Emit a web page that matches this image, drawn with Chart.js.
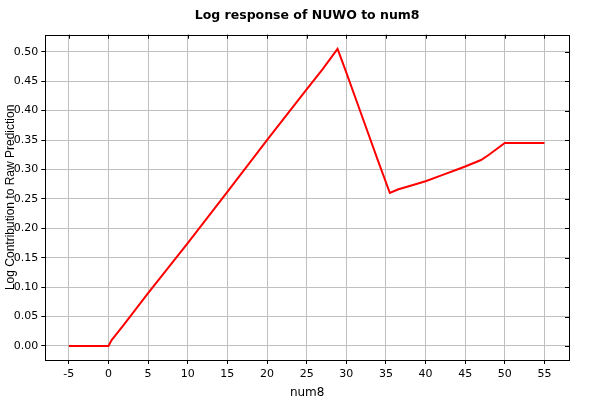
<!DOCTYPE html>
<html>
<head>
<meta charset="utf-8">
<title>Log response of NUWO to num8</title>
<script src="https://cdn.jsdelivr.net/npm/chart.js@4"></script>
<style>
  html, body { margin: 0; padding: 0; background: #fff; }
  canvas { display: block; }
</style>
</head>
<body>
<canvas id="responseChart" width="600" height="400"></canvas>
<script>
// values
const num8 = [-5, -2, 0, 0.4, 1, 2, 5, 10, 15, 20, 25, 27, 28.9, 30, 32, 34, 35.5, 36.5, 38, 40, 42, 44, 45, 47, 48, 50, 52, 55];
const logContribution = [0, 0, 0, 0.01, 0.02, 0.037, 0.09, 0.175, 0.262, 0.35, 0.436, 0.47, 0.505, 0.465, 0.39, 0.315, 0.26, 0.266, 0.272, 0.28, 0.29, 0.3, 0.305, 0.316, 0.325, 0.345, 0.345, 0.345];
const xTicks = [-5, 0, 5, 10, 15, 20, 25, 30, 35, 40, 45, 50, 55];
const yTicks = [0, 0.05, 0.1, 0.15, 0.2, 0.25, 0.3, 0.35, 0.4, 0.45, 0.5];
const chartTitle = "Log response of NUWO to num8";

const points = num8.map((x, i) => ({ x, y: logContribution[i] }));

Chart.defaults.font.family = "'DejaVu Sans', sans-serif";
Chart.defaults.color = "#000";

// title centred over the plot, black frame, small inside ticks on top and right
const frame = {
  id: "frame",
  afterDraw(chart) {
    const { ctx, chartArea: a, scales } = chart;
    ctx.save();
    ctx.fillStyle = "#000";
    ctx.font = "bold 12.5px 'DejaVu Sans', sans-serif";
    ctx.textAlign = "center";
    ctx.textBaseline = "middle";
    ctx.fillText(chartTitle, (a.left + a.right) / 2, 16);

    ctx.strokeStyle = "#000";
    ctx.lineWidth = 1;
    ctx.beginPath();
    xTicks.forEach((v) => {
      const px = Math.round(scales.x.getPixelForValue(v)) + 0.5;
      ctx.moveTo(px, a.top);
      ctx.lineTo(px, a.top + 4);
    });
    yTicks.forEach((v) => {
      const py = Math.round(scales.y.getPixelForValue(v)) + 0.5;
      ctx.moveTo(a.right, py);
      ctx.lineTo(a.right - 4, py);
    });
    ctx.stroke();
    ctx.strokeRect(Math.round(a.left) + 0.5, Math.round(a.top) + 0.5,
      Math.round(a.right - a.left), Math.round(a.bottom - a.top));
    ctx.restore();
  }
};

new Chart(document.getElementById("responseChart").getContext("2d"), {
  type: "scatter",
  data: {
    datasets: [
      {
        label: "num8",
        data: points,
        showLine: true,
        borderColor: "#ff0000",
        backgroundColor: "#ff0000",
        borderWidth: 2,
        pointRadius: 0,
        tension: 0
      }
    ]
  },
  options: {
    responsive: false,
    animation: false,
    layout: { padding: { left: 0, right: 31, top: 34.7, bottom: 0 } },
    plugins: {
      legend: { display: false },
      tooltip: { enabled: false },
      title: { display: false }
    },
    scales: {
      x: {
        type: "linear",
        min: -7.97,
        max: 58.1,
        afterBuildTicks: (scale) => {
          scale.ticks = xTicks.map((v) => ({ value: v }));
        },
        afterFit: (scale) => {
          scale.height = 40;
        },
        ticks: { font: { size: 11 }, padding: 4, maxRotation: 0 },
        grid: { color: "#c0c0c0", tickColor: "#000", tickLength: 4 },
        border: { display: false },
        title: { display: true, text: "num8", font: { size: 12 }, padding: { top: 4, bottom: 0 } }
      },
      y: {
        type: "linear",
        min: -0.0238,
        max: 0.529,
        afterBuildTicks: (scale) => {
          scale.ticks = yTicks.map((v) => ({ value: v }));
        },
        afterFit: (scale) => {
          scale.width = 45.3;
        },
        ticks: {
          font: { size: 11 },
          padding: 3,
          callback: (v) => v.toFixed(2)
        },
        grid: { color: "#c0c0c0", tickColor: "#000", tickLength: 4 },
        border: { display: false },
        title: {
          display: true,
          text: "Log Contribution to Raw Prediction",
          font: { family: "'Liberation Sans', sans-serif", size: 12 },
          padding: { top: 3, bottom: 0 }
        }
      }
    }
  },
  plugins: [frame]
});
</script>
</body>
</html>
